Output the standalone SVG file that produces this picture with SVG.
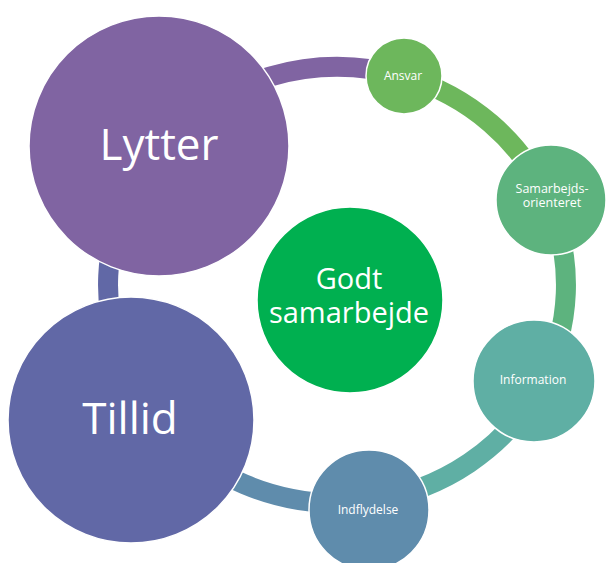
<svg xmlns="http://www.w3.org/2000/svg" width="606" height="563" viewBox="0 0 606 563">
<style>
.node{stroke:#ffffff;stroke-width:1.5}
.seg{fill:none;stroke-width:20}
text{font-family:"Open Sans","Liberation Sans",sans-serif;fill:#ffffff;text-anchor:middle}
.big{font-size:44px}
.mid{font-size:29px}
.sm{font-size:12px}
</style>
<rect width="606" height="563" fill="#ffffff"/>
<g id="connectors">
<path class="seg" stroke="#8064A2" d="M160.1,146.6 A229,218 0 0 1 403.8,76.5"/>
<path class="seg" stroke="#6DB75C" d="M403.8,76.5 A229,218 0 0 1 548.3,201.0"/>
<path class="seg" stroke="#5DB37E" d="M548.3,201.0 A229,218 0 0 1 540.8,384.3"/>
<path class="seg" stroke="#5FAFA4" d="M540.8,384.3 A229,218 0 0 1 367.7,501.0"/>
<path class="seg" stroke="#5F8CAC" d="M367.7,501.0 A229,218 0 0 1 148.4,408.6"/>
<path class="seg" stroke="#6168A6" d="M148.4,408.6 A229,218 0 0 1 160.1,146.6"/>
</g>
<g id="lytter">
<circle class="node" cx="159" cy="146" r="130" fill="#8064A2"/>
<text class="big" x="159" y="160">Lytter</text>
</g>
<g id="tillid">
<circle class="node" cx="131" cy="420" r="123" fill="#6168A6"/>
<text class="big" x="130" y="434">Tillid</text>
</g>
<g id="ansvar">
<circle class="node" cx="404" cy="76" r="38" fill="#6DB75C"/>
<text class="sm" x="403" y="80">Ansvar</text>
</g>
<g id="samarbejdsorienteret">
<circle class="node" cx="551" cy="200" r="55" fill="#5DB37E"/>
<text class="sm" x="552" y="193" style="font-size:12.5px">Samarbejds-</text>
<text class="sm" x="552" y="207" style="font-size:12.5px">orienteret</text>
</g>
<g id="information">
<circle class="node" cx="534" cy="381" r="61" fill="#5FAFA4"/>
<text class="sm" x="533" y="384">Information</text>
</g>
<g id="indflydelse">
<circle class="node" cx="369" cy="510" r="60" fill="#5F8CAC"/>
<text class="sm" x="368" y="514">Indflydelse</text>
</g>
<g id="godt">
<circle class="node" cx="350" cy="300" r="93" fill="#00B050"/>
<text class="mid" x="349" y="289">Godt</text>
<text class="mid" x="349" y="323">samarbejde</text>
</g>
</svg>
